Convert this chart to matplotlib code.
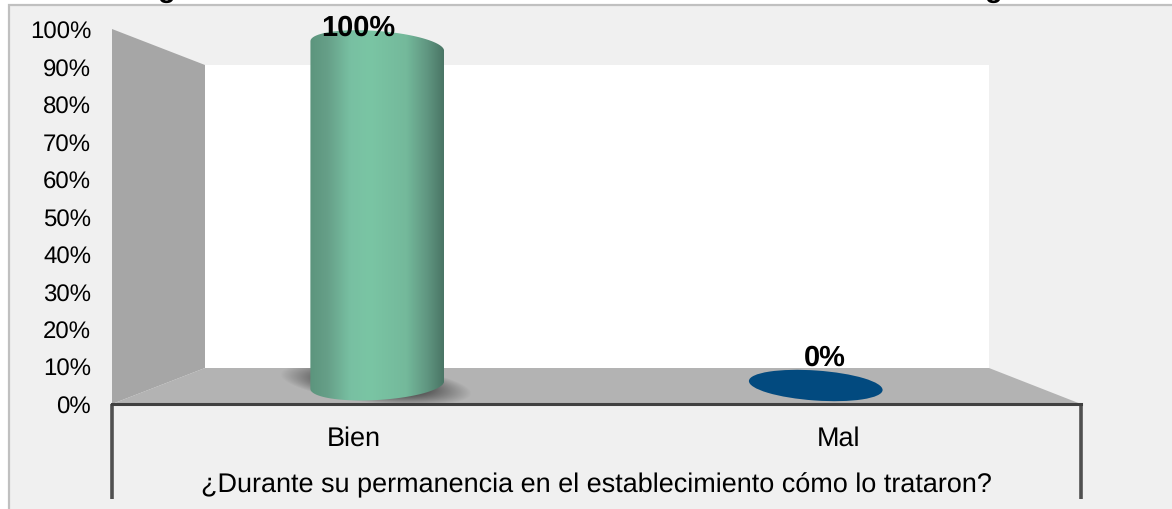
import numpy as np
import matplotlib
matplotlib.use("Agg")
import matplotlib.pyplot as plt
from matplotlib.colors import LinearSegmentedColormap
from matplotlib.patches import Ellipse, PathPatch, Polygon, Rectangle
from matplotlib.path import Path
from matplotlib.transforms import IdentityTransform

categories = ["Bien", "Mal"]
values = [100, 0]
value_labels = ["100%", "0%"]
y_ticks = [0, 10, 20, 30, 40, 50, 60, 70, 80, 90, 100]
y_tick_labels = ["0%", "10%", "20%", "30%", "40%", "50%", "60%", "70%", "80%", "90%", "100%"]
x_title = "¿Durante su permanencia en el establecimiento cómo lo trataron?"

W, H = 1172, 510
plt.rcParams["font.family"] = ["Liberation Sans", "DejaVu Sans"]
plt.rcParams["text.hinting"] = "none"
plt.rcParams["text.hinting_factor"] = 1

fig = plt.figure(figsize=(W / 100, H / 100), dpi=100, facecolor="white")


def px_axes(x0, x1, y_top, y_bottom, zorder):
    # axes placed with reference pixels, y counted from the top
    ax = fig.add_axes([x0 / W, 1 - y_bottom / H, (x1 - x0) / W, (y_bottom - y_top) / H], zorder=zorder)
    ax.patch.set_visible(False)
    return ax


# background, walls and floor
bg = px_axes(0, W, 0, H, 0)
bg.set_xlim(0, W)
bg.set_ylim(H, 0)
bg.axis("off")
bg.add_patch(Rectangle((8.5, 5.5), W, H, facecolor="#f0f0f0", edgecolor="#c0c0c0", linewidth=1.6))
bg.add_patch(Polygon([(205, 66), (989, 66), (989, 369), (205, 369)], facecolor="white", edgecolor="none"))
bg.add_patch(Polygon([(112, 30), (205, 66), (205, 369), (112, 405)], facecolor="#a6a6a6", edgecolor="none"))
floor = Polygon([(112, 405), (205, 369), (989, 369), (1081, 405)], facecolor="#b3b3b3", edgecolor="none")
bg.add_patch(floor)

# soft shadow under the cylinder
sx, sy = np.meshgrid(np.linspace(270, 480, 210), np.linspace(360, 405, 45))
tilt = np.radians(-6)
u = (sx - 376) * np.cos(tilt) - (sy - 385) * np.sin(tilt)
v = (sx - 376) * np.sin(tilt) + (sy - 385) * np.cos(tilt)
dist = np.sqrt((u / 92) ** 2 + (v / 19) ** 2)
shadow = np.zeros(sx.shape + (4,))
shadow[..., :3] = 0.22
shadow[..., 3] = 0.7 * np.clip((1.05 - dist) / 0.45, 0, 1)
shadow_img = bg.imshow(shadow, extent=(270, 480, 405, 360), aspect="auto", zorder=2)
shadow_img.set_clip_path(floor)
bg.set_xlim(0, W)
bg.set_ylim(H, 0)

# cut off title, only the descenders are left in the picture
for gx in [167, 994]:
    bg.text(gx, -3, "g", fontsize=21, fontweight="bold", ha="center", va="baseline", clip_on=False)

# front plane: the axis with its ticks
ax = px_axes(112, 1081, 30.5, 405, 1)
ax.set_xlim(-0.5, 1.5)
ax.set_ylim(0, 100)
ax.set_xticks(range(len(categories)))
ax.set_xticklabels(categories)
ax.set_yticks(y_ticks)
ax.set_yticklabels(y_tick_labels)
ax.tick_params(axis="y", length=0, pad=15, labelsize=17, colors="black")
ax.tick_params(axis="x", length=0, pad=15, labelsize=19.1, colors="black")
ax.set_xlabel(x_title, fontsize=19.1, labelpad=15.5)
for side in ["top", "left", "right"]:
    ax.spines[side].set_visible(False)
ax.spines["bottom"].set_color("#404040")
ax.spines["bottom"].set_linewidth(2.2)
bg.plot([112, 112], [405, 500], color="#505050", lw=2.6, solid_capstyle="butt", zorder=3)
bg.plot([1081, 1081], [405, 500], color="#505050", lw=2.6, solid_capstyle="butt", zorder=3)

# middle plane: the cylinders stand here
mid = px_axes(158, 1035, 48, 386, 2)
mid.set_xlim(-0.5, 1.5)
mid.set_ylim(0, 100)
mid.axis("off")
fig.canvas.draw()

half_w = 67
half_h = 15
green = LinearSegmentedColormap.from_list(
    "cyl",
    [(0, "#5c957d"), (0.13, "#669f88"), (0.3, "#78c0a2"), (0.45, "#7ac5a4"), (0.72, "#74b99b"),
     (0.88, "#5f9580"), (1, "#4a7565")],
)


def arc(cx, cy, angle, t0, t1):
    t = np.linspace(t0, t1, 60)
    a = np.radians(angle)
    ex = half_w * np.cos(t)
    ey = half_h * np.sin(t)
    return np.column_stack([cx + ex * np.cos(a) - ey * np.sin(a), cy + ex * np.sin(a) + ey * np.cos(a)])


# Bien: cylinder from 0 up to its value
bx, by0 = mid.transData.transform((0, 0))
_, by1 = mid.transData.transform((0, values[0]))
outline = np.vstack([arc(bx, by1 + 1, -4.3, np.pi, 0), arc(bx, by0, 3.4, 2 * np.pi, np.pi)])
body = PathPatch(Path(np.vstack([outline, outline[:1]])), transform=IdentityTransform(), facecolor="none", edgecolor="none")
body.set_clip_on(False)
mid.add_patch(body)
width_data = 2 * half_w / (mid.transData.transform((1, 0))[0] - bx)
grad = mid.imshow(np.linspace(0, 1, 256).reshape(1, -1), cmap=green, aspect="auto",
                  extent=(-width_data / 2, width_data / 2, -10, values[0] + 10))
# images get cut to the axes box otherwise, the round ends stick out of it
grad.set_clip_box(fig.bbox)
grad.set_clip_path(body)
mid.set_xlim(-0.5, 1.5)
mid.set_ylim(0, 100)

# Mal: value 0, only the flat disc
mx, my = mid.transData.transform((1, values[1]))
disc = Ellipse((mx, my - 0.5), 2 * half_w, 2 * half_h, angle=-4, transform=IdentityTransform(),
               facecolor="#024a7f", edgecolor="none")
disc.set_clip_on(False)
mid.add_patch(disc)

# value labels
mid.annotate(value_labels[0], xy=(0, values[0]), xytext=(-13.5, 14.5), textcoords="offset points",
             ha="center", va="center", fontsize=21, fontweight="bold", annotation_clip=False, zorder=5)
mid.annotate(value_labels[1], xy=(1, values[1]), xytext=(6.5, 20), textcoords="offset points",
             ha="center", va="center", fontsize=21, fontweight="bold", annotation_clip=False, zorder=5)

fig.savefig("out.png", dpi=100)
